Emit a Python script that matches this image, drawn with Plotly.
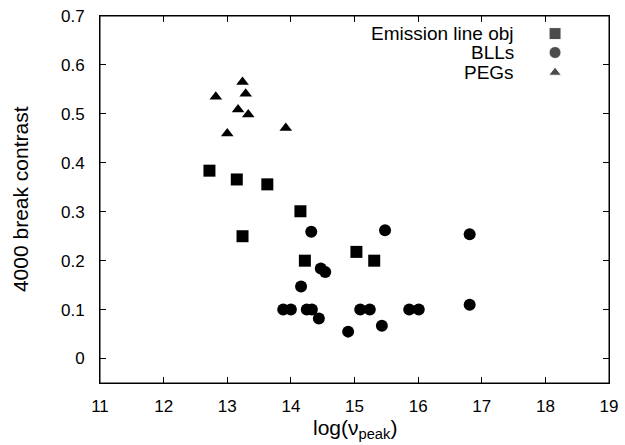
import plotly.graph_objects as go

# Emission line objects (squares)
em_x = [12.72, 13.15, 13.63, 14.15, 13.24, 14.22, 15.03, 15.31]
em_y = [0.384, 0.366, 0.356, 0.301, 0.250, 0.200, 0.218, 0.200]

# BLLs (circles)
bll_x = [14.32, 15.48, 16.81, 14.47, 14.54, 14.16, 13.88, 14.00, 14.25, 14.33,
         14.44, 14.90, 15.09, 15.24, 15.43, 15.86, 16.01, 16.81]
bll_y = [0.259, 0.262, 0.254, 0.184, 0.177, 0.147, 0.100, 0.100, 0.100, 0.100,
         0.082, 0.055, 0.100, 0.100, 0.067, 0.100, 0.100, 0.110]

# PEGs (triangles)
peg_x = [12.82, 13.24, 13.29, 13.17, 13.33, 13.00, 13.92]
peg_y = [0.535, 0.565, 0.541, 0.509, 0.499, 0.460, 0.471]

legend_labels = ["Emission line obj", "BLLs", "PEGs"]
legend_symbols = ["square", "circle", "triangle-up"]
legend_sizes = [12, 12, 11]

x_ticks = [11, 12, 13, 14, 15, 16, 17, 18, 19]
y_ticks = [0, 0.1, 0.2, 0.3, 0.4, 0.5, 0.6, 0.7]
y_ticktext = ["0", "0.1", "0.2", "0.3", "0.4", "0.5", "0.6", "0.7"]

X_RANGE = [11, 19]
Y_RANGE = [-0.05, 0.7001]

FONT = "Liberation Sans, Arial, sans-serif"
TICK_SIZE = 17
LEGEND_SIZE = 19
TITLE_SIZE = 21

fig = go.Figure()
fig.add_trace(go.Scatter(x=em_x, y=em_y, mode="markers",
                         marker=dict(symbol="square", size=12, color="black"),
                         showlegend=False))
fig.add_trace(go.Scatter(x=bll_x, y=bll_y, mode="markers",
                         marker=dict(symbol="circle", size=12, color="black"),
                         showlegend=False))
fig.add_trace(go.Scatter(x=peg_x, y=peg_y, mode="markers",
                         marker=dict(symbol="triangle-up", size=11, color="black"),
                         showlegend=False))

# gnuplot-style key (text right-aligned, symbol on the right), placed in plot fractions
key_frac_y = [0.952, 0.9005, 0.846]
key_sym_frac_x = 0.894
key_text_x = 0.817


def fx(f):
    return X_RANGE[0] + f * (X_RANGE[1] - X_RANGE[0])


def fy(f):
    return Y_RANGE[0] + f * (Y_RANGE[1] - Y_RANGE[0])


fig.add_trace(go.Scatter(x=[fx(key_sym_frac_x)] * 3, y=[fy(f) for f in key_frac_y],
                         mode="markers",
                         marker=dict(symbol=legend_symbols, size=legend_sizes, color="black"),
                         showlegend=False, hoverinfo="skip"))

annotations = []
for lab, yy in zip(legend_labels, key_frac_y):
    annotations.append(dict(text=lab, xref="paper", yref="paper", x=key_text_x, y=yy,
                            xanchor="right", yanchor="middle", showarrow=False,
                            font=dict(family=FONT, size=LEGEND_SIZE, color="black")))
annotations.append(dict(text="log(ν<sub>peak</sub>)", xref="paper", yref="paper",
                        x=0.5, y=-0.085, xanchor="center", yanchor="top", showarrow=False,
                        font=dict(family=FONT, size=TITLE_SIZE, color="black")))
annotations.append(dict(text="4000 break contrast", xref="paper", yref="paper",
                        x=-0.156, y=0.5, xanchor="center", yanchor="middle", showarrow=False,
                        textangle=-90,
                        font=dict(family=FONT, size=TITLE_SIZE, color="black")))

axis_common = dict(showline=True, linecolor="black", linewidth=1, mirror="allticks",
                   ticks="inside", ticklen=6, tickcolor="black", tickwidth=1, showgrid=False,
                   zeroline=False, tickfont=dict(family=FONT, size=TICK_SIZE, color="black"))

fig.update_layout(
    width=625, height=445,
    margin=dict(l=100, r=16, t=16, b=62, autoexpand=False),
    plot_bgcolor="white", paper_bgcolor="white",
    xaxis=dict(range=X_RANGE, tickvals=x_ticks, ticktext=[str(v) for v in x_ticks],
               ticklabelstandoff=8, **axis_common),
    yaxis=dict(range=Y_RANGE, tickvals=y_ticks, ticktext=y_ticktext,
               ticklabelstandoff=11, **axis_common),
    annotations=annotations,
    shapes=[dict(type="rect", xref="paper", yref="paper", x0=0, y0=0, x1=1, y1=1,
                 line=dict(color="black", width=1), fillcolor="rgba(0,0,0,0)",
                 layer="above")],
)

fig.write_html("out.html", config={"displayModeBar": False},
               post_script="document.body.style.margin='0px';")
